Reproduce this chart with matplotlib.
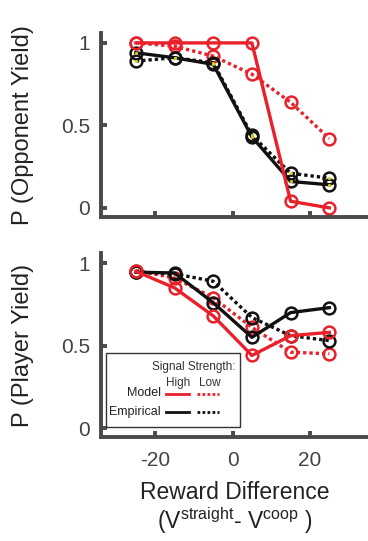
import matplotlib
matplotlib.use('Agg')
import matplotlib.pyplot as plt
from matplotlib.patches import Rectangle
from matplotlib.lines import Line2D

plt.rcParams['font.family'] = ['Liberation Sans', 'DejaVu Sans']
plt.rcParams['mathtext.fontset'] = 'custom'
plt.rcParams['mathtext.rm'] = 'Liberation Sans'
plt.rcParams['axes.unicode_minus'] = False

reward_diff = [-25, -15, -5, 5, 15, 25]

# top panel: P(opponent yield)
opp_model_high = [1.0, 1.0, 1.0, 1.0, 0.04, 0.0]
opp_model_low = [1.0, 0.98, 0.92, 0.81, 0.64, 0.42]
opp_emp_high = [0.94, 0.91, 0.87, 0.43, 0.16, 0.14]
opp_emp_low = [0.89, 0.91, 0.88, 0.44, 0.21, 0.18]

# bottom panel: P(player yield)
ply_model_high = [0.95, 0.85, 0.68, 0.44, 0.56, 0.58]
ply_model_low = [0.955, 0.91, 0.79, 0.61, 0.46, 0.45]
ply_emp_high = [0.945, 0.94, 0.76, 0.55, 0.70, 0.73]
ply_emp_low = [0.945, 0.935, 0.89, 0.67, 0.56, 0.53]

RED = '#e8212b'
BLK = '#111111'
AX = '#4a4a4a'
DOT = (0, (1, 0.9))

fig = plt.figure(figsize=(3.68, 5.41), dpi=100)
ax1 = fig.add_axes([0.2745, 0.599, 0.7255, 0.340])
ax2 = fig.add_axes([0.2745, 0.192, 0.7255, 0.340])


def draw(ax, mh, ml, eh, el, dots=False):
    kw = dict(marker='o', markersize=8.5, markerfacecolor='none', markeredgewidth=1.8, lw=2.4)
    ax.plot(reward_diff, ml, color=RED, ls=DOT, **kw)
    ax.plot(reward_diff, el, color=BLK, ls=DOT, **kw)
    ax.plot(reward_diff, eh, color=BLK, ls='-', **kw)
    ax.plot(reward_diff, mh, color=RED, ls='-', **kw)
    if dots:
        # small yellow dots inside the empirical markers
        ax.plot(reward_diff, eh, ls='none', marker='.', markersize=2.5, color='#d8d000')
        ax.plot(reward_diff, el, ls='none', marker='.', markersize=2.5, color='#d8d000')
    ax.set_xlim(-34, 35)
    ax.set_ylim(-0.055, 1.06)
    ax.set_yticks([0, 0.5, 1])
    ax.set_yticklabels(['0', '0.5', '1'])
    ax.set_xticks([-20, 0, 20])
    for s in ['top', 'right']:
        ax.spines[s].set_visible(False)
    for s in ['left', 'bottom']:
        ax.spines[s].set_linewidth(2.8)
        ax.spines[s].set_color(AX)
    ax.tick_params(direction='in', length=4, width=2.8, color=AX, labelsize=15,
                   labelcolor='#444444', pad=8)
    ax.tick_params(axis='x', pad=10)
    ax.patch.set_alpha(0)


draw(ax1, opp_model_high, opp_model_low, opp_emp_high, opp_emp_low, dots=True)
draw(ax2, ply_model_high, ply_model_low, ply_emp_high, ply_emp_low)
ax1.set_xticklabels([])
ax1.set_ylabel('P (Opponent Yield)', fontsize=17, color='#222222')
ax2.set_ylabel('P (Player Yield)', fontsize=17, color='#222222')
ax2.set_xlabel('Reward Difference\n(V$^{\\rm straight}$- V$^{\\rm coop}$ )',
               fontsize=16.5, labelpad=8, linespacing=1.05, color='#222222')
ax1.yaxis.set_label_coords(-0.25, 0.5)
ax2.yaxis.set_label_coords(-0.25, 0.5)

# custom legend box
t = ax2.transAxes
ax2.add_patch(Rectangle((0.019, 0.054), 0.50, 0.403, transform=t, fill=True,
                        facecolor='white', edgecolor='#333333', lw=1.0, zorder=5))
ax2.text(0.505, 0.38, 'Signal Strength:', transform=t, ha='right', va='center',
         fontsize=8.5, color='#333333', zorder=6)
ax2.text(0.289, 0.293, 'High', transform=t, ha='center', va='center',
         fontsize=8.5, color='#333333', zorder=6)
ax2.text(0.408, 0.293, 'Low', transform=t, ha='center', va='center',
         fontsize=8.5, color='#333333', zorder=6)
ax2.text(0.225, 0.239, 'Model', transform=t, ha='right', va='center',
         fontsize=9, color='#222222', zorder=6)
ax2.text(0.225, 0.136, 'Empirical', transform=t, ha='right', va='center',
         fontsize=9, color='#222222', zorder=6)
for yy, c in [(0.234, RED), (0.136, BLK)]:
    ax2.add_line(Line2D([0.243, 0.33], [yy, yy], transform=t, color=c, lw=2.0, zorder=6))
    ax2.add_line(Line2D([0.36, 0.442], [yy, yy], transform=t, color=c, lw=2.0,
                        ls=(0, (1, 0.8)), zorder=6))

fig.savefig('out.png', dpi=100)
